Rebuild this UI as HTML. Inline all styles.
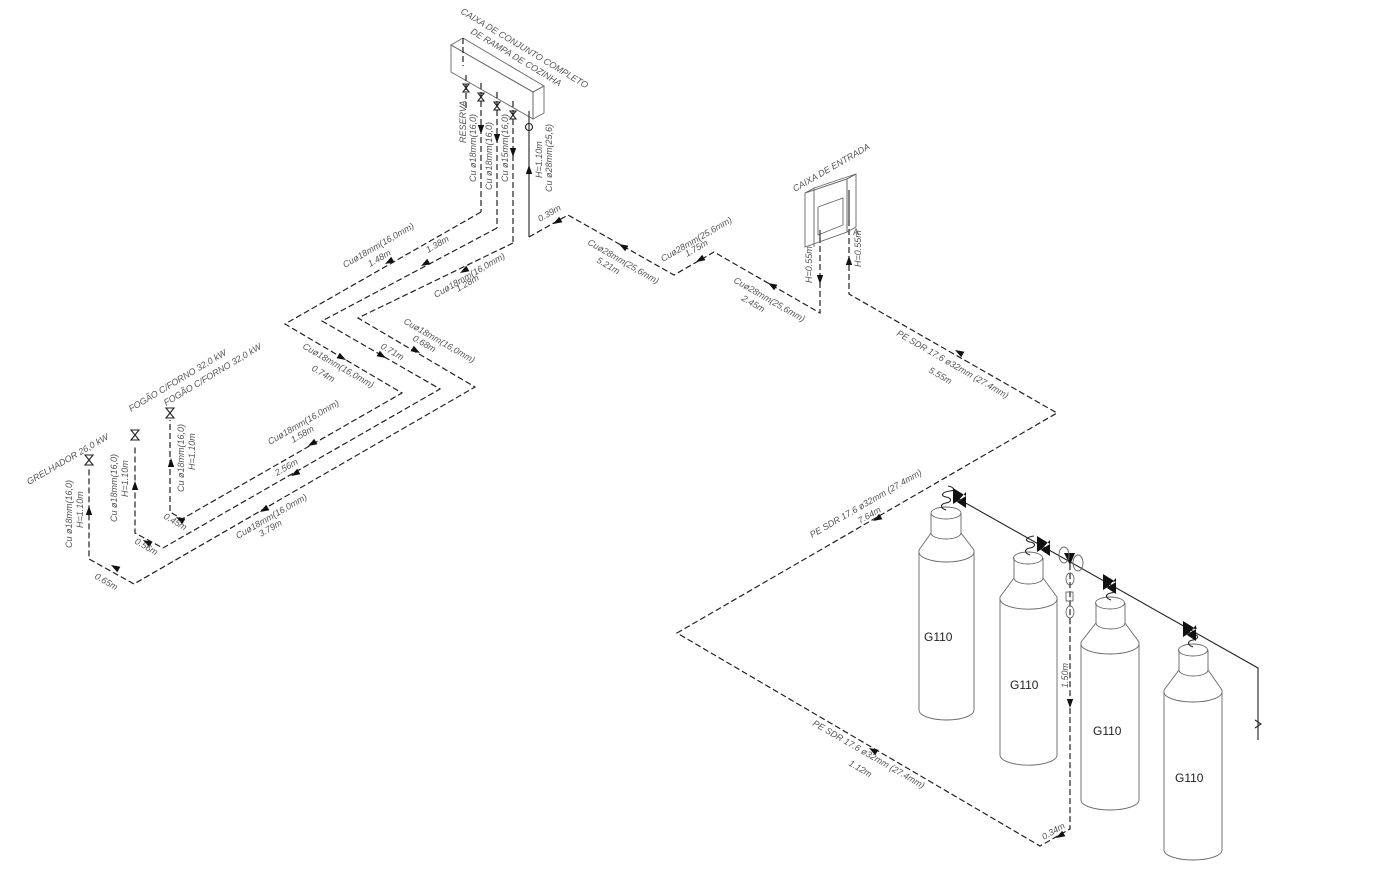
<!DOCTYPE html>
<html><head><meta charset="utf-8"><style>
html,body{margin:0;padding:0;background:#fff}
svg{display:block}
text{font-family:"Liberation Sans",sans-serif;font-size:9px;fill:#555;font-style:italic}
.d{fill:none;stroke:#222;stroke-width:1.2;stroke-dasharray:6,3}
.s{fill:none;stroke:#222;stroke-width:1.1}
.g{fill:none;stroke:#666;stroke-width:0.9}
.lb{font-style:normal;font-size:12px;fill:#222}
</style></head><body>
<svg width="1397" height="884" viewBox="0 0 1397 884" xmlns="http://www.w3.org/2000/svg">
<defs><path id="ar" d="M0,0 L-9,-3.2 L-9,3.2Z" fill="#111"/></defs>

<!-- Upper box -->
<g class="g">
<polygon points="451,45 533,92 533,119 451,72"/>
<polygon points="533,92 544,86 544,113 533,119"/>
<polygon points="451,45 463,38 544,86 533,92"/>
</g>
<line x1="463" y1="38" x2="463" y2="66" class="d" stroke-dasharray="3,2"/>
<line x1="466" y1="75" x2="466" y2="108" class="d" stroke-dasharray="4,2"/>
<line x1="481" y1="83" x2="481" y2="212" class="d"/>
<line x1="497" y1="92" x2="497" y2="228" class="d"/>
<line x1="513" y1="101" x2="513" y2="243" class="d"/>
<line x1="529" y1="111" x2="529" y2="237" class="s"/>
<g class="s" stroke-width="0.8">
<path d="M463,84 l6,8 l-6,0 l6,-8z"/><path d="M478,93 l6,8 l-6,0 l6,-8z"/><path d="M494,102 l6,8 l-6,0 l6,-8z"/><path d="M510,111 l6,8 l-6,0 l6,-8z"/>
<circle cx="529" cy="127" r="3.5"/>
</g>

<polyline class="d" points="481,212 285,324 402,393 182,519 170,512 170,420"/>
<polyline class="d" points="497,228 322,321 440,389 163,548 135,533 135,445"/>
<polyline class="d" points="513,243 358,318 475,387 134,584 89,559 89,468"/>
<g class="s" stroke-width="0.9">
<path d="M166,408 l8,10 l-8,0 l8,-10z"/><path d="M131,430 l8,10 l-8,0 l8,-10z"/><path d="M85,455 l8,10 l-8,0 l8,-10z"/>
</g>

<polyline class="d" points="529,237 568,215 674,275 714,252 820,313 820,238"/>
<polyline class="d" points="849,220 849,294 1057,413 677,633 1040,846 1070,829 1070,560"/>

<g class="g">
<polygon points="805,193 847,179 847,232 805,247"/>
<polygon points="805,193 847,179 856,174 814,188"/>
<polygon points="847,179 856,174 856,227 847,232"/>
<polyline points="814,188 814,247"/>
<polyline points="818,207 843,198 843,225 818,235 818,207"/>
</g>
<line x1="820" y1="238" x2="820" y2="230" class="s"/><line x1="849" y1="220" x2="849" y2="190" class="s"/>
<text x="853" y="235" style="font-style:normal">A</text>

<g class="g" stroke="#444">
<path d="M931,513 L931,533 L919,550 L919,710 A27.5,10 0 0 0 974,710 L974,550 L961,533 L961,513"/>
<ellipse cx="946" cy="513" rx="15" ry="6"/><path d="M931,533 A15,6 0 0 0 961,533"/><path d="M919,552 A27.5,10 0 0 0 974,552"/>
<path d="M1014,558 L1014,578 L1000,597 L1000,755 A28,10 0 0 0 1057,755 L1057,597 L1043,578 L1043,558"/>
<ellipse cx="1028" cy="558" rx="14.5" ry="6"/><path d="M1014,578 A14.5,6 0 0 0 1043,578"/><path d="M1000,599 A28,10 0 0 0 1057,599"/>
<path d="M1096,603 L1096,623 L1081,642 L1081,800 A29,10 0 0 0 1139,800 L1139,642 L1125,623 L1125,603"/>
<ellipse cx="1110" cy="603" rx="14.5" ry="6"/><path d="M1096,623 A14.5,6 0 0 0 1125,623"/><path d="M1081,644 A29,10 0 0 0 1139,644"/>
<path d="M1179,650 L1179,670 L1164,690 L1164,850 A29,10 0 0 0 1222,850 L1222,690 L1208,670 L1208,650"/>
<ellipse cx="1193" cy="650" rx="14.5" ry="6"/><path d="M1179,670 A14.5,6 0 0 0 1208,670"/><path d="M1164,692 A29,10 0 0 0 1222,692"/>
</g>
<text class="lb" x="924" y="641">G110</text>
<text class="lb" x="1010" y="689">G110</text>
<text class="lb" x="1093" y="735">G110</text>
<text class="lb" x="1175" y="782">G110</text>
<g class="s" stroke-width="0.8">
<path d="M946,510 c-6,-2 -6,-6 0,-7 c6,-1 6,-5 0,-6 c-6,-1 -4,-5 4,-6 c6,0 4,-4 -2,-5"/>
<path d="M1030,555 c-6,-2 -6,-6 0,-7 c6,-1 6,-5 0,-6 c-6,-1 -4,-5 4,-6"/>
<path d="M1111,600 c-6,-2 -6,-6 0,-7 c6,-1 6,-5 0,-6 c-6,-1 -4,-5 4,-6"/>
<path d="M1193,647 c-6,-2 -6,-6 0,-7 c6,-1 6,-5 0,-6 c-6,-1 -4,-5 4,-6"/>
</g>
<polyline class="s" points="955,497 1258,668 1258,740"/>
<g fill="#111">
<path d="M953,488 l0,16 l13,-8z M966,492 l0,16 l-9,-6z"/>
<path d="M1037,536 l0,16 l13,-8z M1050,540 l0,16 l-9,-6z"/>
<path d="M1103,574 l0,16 l13,-8z M1116,578 l0,16 l-9,-6z"/>
<path d="M1183,621 l0,16 l13,-8z M1196,625 l0,16 l-9,-6z"/>
<path d="M1064,553 l11,0 l-5,12z"/>
</g>
<g class="g">
<ellipse cx="1064" cy="555" rx="5" ry="8"/><ellipse cx="1078" cy="563" rx="5" ry="8"/>
<ellipse cx="1070" cy="579" rx="4" ry="6"/><rect x="1066" y="592" width="7" height="9"/><ellipse cx="1070" cy="612" rx="4" ry="6"/>
</g>
<path d="M1255,720 l6,4 l-6,4" class="s" stroke-width="0.8"/>

<use href="#ar" transform="translate(481,134) rotate(90)"/>
<use href="#ar" transform="translate(497,143) rotate(90)"/>
<use href="#ar" transform="translate(513,157) rotate(90)"/>
<use href="#ar" transform="translate(529,165) rotate(-90)"/>
<use href="#ar" transform="translate(385,264) rotate(150)"/>
<use href="#ar" transform="translate(421,266) rotate(150)"/>
<use href="#ar" transform="translate(460,273) rotate(150)"/>
<use href="#ar" transform="translate(553,224) rotate(150)"/>
<use href="#ar" transform="translate(619,244) rotate(210)"/>
<use href="#ar" transform="translate(696,262) rotate(150)"/>
<use href="#ar" transform="translate(768,283) rotate(210)"/>
<use href="#ar" transform="translate(820,284) rotate(90)"/>
<use href="#ar" transform="translate(849,256) rotate(-90)"/>
<use href="#ar" transform="translate(955,350) rotate(210)"/>
<use href="#ar" transform="translate(873,521) rotate(150)"/>
<use href="#ar" transform="translate(869,748) rotate(210)"/>
<use href="#ar" transform="translate(1056,838) rotate(150)"/>
<use href="#ar" transform="translate(1070,708) rotate(90)"/>
<use href="#ar" transform="translate(346,360) rotate(30)"/>
<use href="#ar" transform="translate(386,358) rotate(30)"/>
<use href="#ar" transform="translate(420,353) rotate(30)"/>
<use href="#ar" transform="translate(308,446) rotate(150)"/>
<use href="#ar" transform="translate(291,476) rotate(150)"/>
<use href="#ar" transform="translate(260,512) rotate(150)"/>
<use href="#ar" transform="translate(176,517) rotate(210)"/>
<use href="#ar" transform="translate(143,540) rotate(210)"/>
<use href="#ar" transform="translate(111,565) rotate(210)"/>
<use href="#ar" transform="translate(171,458) rotate(-90)"/>
<use href="#ar" transform="translate(135,481) rotate(-90)"/>
<use href="#ar" transform="translate(89,506) rotate(-90)"/>

<text transform="translate(460,13) rotate(31)">CAIXA DE CONJUNTO COMPLETO</text>
<text transform="translate(470,33) rotate(31)">DE RAMPA DE COZINHA</text>
<text transform="translate(466,143) rotate(-90)" font-size="7">RESERVA</text>
<text transform="translate(476,182) rotate(-90)" font-size="8">Cu ø18mm(16,0)</text>
<text transform="translate(492,190) rotate(-90)" font-size="8">Cu ø18mm(16,0)</text>
<text transform="translate(508,182) rotate(-90)" font-size="8">Cu ø15mm(16,0)</text>
<text transform="translate(542,178) rotate(-90)" font-size="8">H=1.10m</text>
<text transform="translate(552,192) rotate(-90)" font-size="8">Cu ø28mm(25,6)</text>
<text transform="translate(345,268) rotate(-30)">Cuø18mm(16,0mm)</text>
<text transform="translate(370,267) rotate(-30)">1.48m</text>
<text transform="translate(428,253) rotate(-30)">1.38m</text>
<text transform="translate(436,298) rotate(-30)">Cuø18mm(16,0mm)</text>
<text transform="translate(458,292) rotate(-30)">1.28m</text>
<text transform="translate(540,222) rotate(-30)">0.39m</text>
<text transform="translate(587,244) rotate(30)">Cuø28mm(25,6mm)</text>
<text transform="translate(596,262) rotate(30)">5.21m</text>
<text transform="translate(663,262) rotate(-30)">Cuø28mm(25,6mm)</text>
<text transform="translate(687,257) rotate(-30)">1.75m</text>
<text transform="translate(733,282) rotate(30)">Cuø28mm(25,6mm)</text>
<text transform="translate(741,300) rotate(30)">2.45m</text>
<text transform="translate(795,192) rotate(-30)" font-size="8">CAIXA DE ENTRADA</text>
<text transform="translate(812,283) rotate(-90)" font-size="8">H=0.55m</text>
<text transform="translate(861,267) rotate(-90)" font-size="8">H=0.55m</text>
<text transform="translate(896,335) rotate(30)">PE SDR 17.6 ø32mm (27.4mm)</text>
<text transform="translate(928,372) rotate(30)">5.55m</text>
<text transform="translate(812,538) rotate(-30)">PE SDR 17.6 ø32mm (27.4mm)</text>
<text transform="translate(860,524) rotate(-30)">7.64m</text>
<text transform="translate(812,725) rotate(30)">PE SDR 17.6 ø32mm (27.4mm)</text>
<text transform="translate(848,765) rotate(30)">1.12m</text>
<text transform="translate(1044,840) rotate(-30)" font-size="8">0.34m</text>
<text transform="translate(1068,688) rotate(-90)" font-size="8">1.50m</text>
<text transform="translate(302,348) rotate(30)">Cuø18mm(16,0mm)</text>
<text transform="translate(311,370) rotate(30)">0.74m</text>
<text transform="translate(380,348) rotate(30)">0.71m</text>
<text transform="translate(403,323) rotate(30)">Cuø18mm(16,0mm)</text>
<text transform="translate(412,340) rotate(30)">0.68m</text>
<text transform="translate(270,445) rotate(-30)">Cuø18mm(16,0mm)</text>
<text transform="translate(293,443) rotate(-30)">1.58m</text>
<text transform="translate(277,476) rotate(-30)">2.56m</text>
<text transform="translate(238,539) rotate(-30)">Cuø18mm(16,0mm)</text>
<text transform="translate(261,537) rotate(-30)">3.79m</text>
<text transform="translate(163,518) rotate(30)">0.45m</text>
<text transform="translate(134,543) rotate(30)">0.56m</text>
<text transform="translate(94,578) rotate(30)">0.65m</text>
<text transform="translate(29,485) rotate(-30)">GRELHADOR 26,0 kW</text>
<text transform="translate(131,412) rotate(-31)">FOGÃO C/FORNO 32,0 kW</text>
<text transform="translate(166,406) rotate(-31)">FOGÃO C/FORNO 32,0 kW</text>
<text transform="translate(72,548) rotate(-90)" font-size="8">Cu ø18mm(16,0)</text>
<text transform="translate(83,528) rotate(-90)" font-size="8">H=1.10m</text>
<text transform="translate(117,522) rotate(-90)" font-size="8">Cu ø18mm(16,0)</text>
<text transform="translate(128,497) rotate(-90)" font-size="8">H=1.10m</text>
<text transform="translate(184,492) rotate(-90)" font-size="8">Cu ø18mm(16,0)</text>
<text transform="translate(195,470) rotate(-90)" font-size="8">H=1.10m</text>
</svg>
</body></html>
